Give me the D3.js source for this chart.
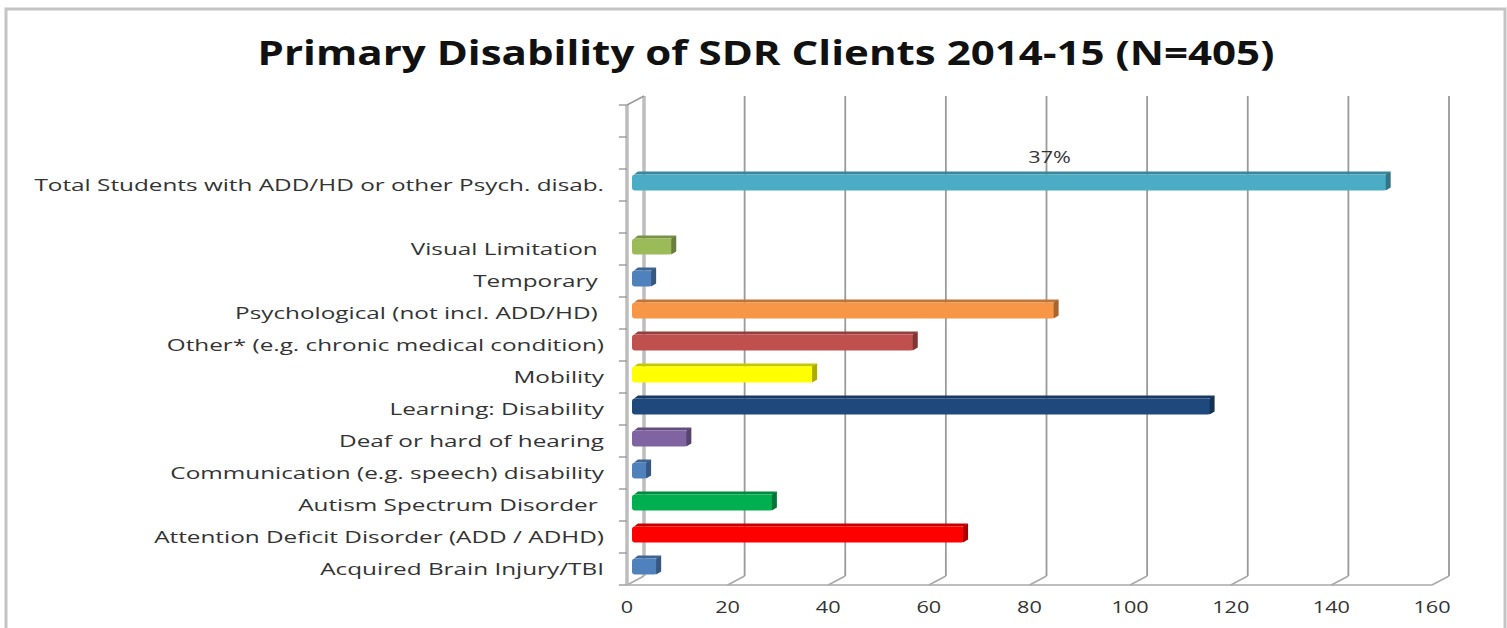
<!DOCTYPE html>
<html>
<head>
<meta charset="utf-8">
<script src="https://cdn.jsdelivr.net/npm/d3@7"></script>
<style>
  html, body { margin: 0; padding: 0; background: #fff; }
  svg text { white-space: pre; }
</style>
</head>
<body>
<svg id="chart" width="1507" height="628"></svg>
<script>
// ---------- data ----------
const titleText = "Primary Disability of SDR Clients 2014-15 (N=405)";
const totalN = 405;
// categories from bottom to top (empty strings are blank rows)
const categories = [
  "Acquired Brain Injury/TBI",
  "Attention Deficit Disorder (ADD / ADHD)",
  "Autism Spectrum Disorder ",
  "Communication (e.g. speech) disability",
  "Deaf or hard of hearing",
  "Learning: Disability",
  "Mobility",
  "Other* (e.g. chronic medical condition)",
  "Psychological (not incl. ADD/HD) ",
  "Temporary ",
  "Visual Limitation ",
  "",
  "Total Students with ADD/HD or other Psych. disab.",
  " ",
  "  "
];
const values = [5, 66, 28, 3, 11, 115, 36, 56, 84, 4, 8, null, 150, null, null];
const barColors = ["#4f81bd", "#ff0000", "#00b050", "#4f81bd", "#8064a2", "#1f497d",
                   "#ffff00", "#c0504d", "#f79646", "#4f81bd", "#9bbb59", null, "#4bacc6", null, null];
const xTicks = [0, 20, 40, 60, 80, 100, 120, 140, 160];
const pctLabelCategory = "Total Students with ADD/HD or other Psych. disab.";
const pctLabelAt = 84; // data position of the percentage label along the axis

// ---------- layout ----------
const svg = d3.select("#chart");
const plot = { left: 627, right: 1432, top: 105, bottom: 585 };
const depth = { dx: 17, dy: -9 };

const x = d3.scaleLinear().domain([0, 160]).range([plot.left, plot.right]);
const xb = v => x(v) + depth.dx;             // back wall
const xBar = v => x(v) + 5;                   // bars sit mid-depth
const y = d3.scaleBand().domain(categories.slice().reverse()).range([plot.top, plot.bottom]).padding(0);

// frame
svg.append("rect").attr("x", 6).attr("y", 9).attr("width", 1499).attr("height", 640)
  .attr("fill", "#fff").attr("stroke", "#c4c4c4").attr("stroke-width", 3);

// title
const title = svg.append("text")
  .attr("text-anchor", "middle")
  .attr("font-family", "'Open Sans', sans-serif")
  .attr("font-weight", "bold")
  .attr("font-size", 34)
  .attr("fill", "#111")
  .text(titleText);
{
  const tw = title.node().getComputedTextLength();
  const sx = 1017 / tw;
  title.attr("transform", `translate(766,65) scale(${sx},1)`);
}

// back wall + gridlines
const grid = svg.append("g");
xTicks.forEach(v => {
  const isZero = v === 0;
  grid.append("line")
    .attr("x1", xb(v)).attr("x2", xb(v))
    .attr("y1", plot.top + depth.dy).attr("y2", plot.bottom + depth.dy)
    .attr("stroke", isZero ? "#bdbdbd" : "#9a9a9a").attr("stroke-width", isZero ? 3.5 : 1.8);
  grid.append("line")
    .attr("x1", xb(v)).attr("y1", plot.bottom + depth.dy)
    .attr("x2", x(v)).attr("y2", plot.bottom)
    .attr("stroke", "#a8a8a8").attr("stroke-width", 1.5);
});
// floor front edge
grid.append("line").attr("x1", plot.left).attr("x2", plot.right)
  .attr("y1", plot.bottom).attr("y2", plot.bottom)
  .attr("stroke", "#a8a8a8").attr("stroke-width", 1.5);
// left side wall front edge
grid.append("line").attr("x1", plot.left).attr("x2", plot.left)
  .attr("y1", plot.top).attr("y2", plot.bottom)
  .attr("stroke", "#bdbdbd").attr("stroke-width", 3.5);
grid.append("line").attr("x1", plot.left).attr("y1", plot.top)
  .attr("x2", xb(0)).attr("y2", plot.top + depth.dy)
  .attr("stroke", "#9a9a9a").attr("stroke-width", 1.5);
// category ticks
const bounds = categories.map(c => y(c)).concat([plot.bottom]);
bounds.forEach(b => {
  grid.append("line").attr("x1", plot.left - 8).attr("x2", plot.left)
    .attr("y1", b).attr("y2", b).attr("stroke", "#a0a0a0").attr("stroke-width", 1.5);
});

// bars (3D look)
const barH = 19, topD = { dx: 4, dy: -3 };
const bars = svg.append("g");
categories.forEach((c, i) => {
  const v = values[i];
  if (v == null) return;
  const col = d3.color(barColors[i]);
  const dark = col.darker(0.7).formatHex();
  const darker = col.darker(1.1).formatHex();
  const cy = y(c) + y.bandwidth() / 2 - 4;
  const x0 = xBar(0), x1 = xBar(v);
  const yTop = cy - barH / 2 + 3, yBot = cy + barH / 2;
  // top face
  bars.append("polygon")
    .attr("points", [[x0 + 2, yTop], [x1, yTop], [x1 + topD.dx, yTop + topD.dy], [x0 + 2 + topD.dx, yTop + topD.dy]].join(" "))
    .attr("fill", dark);
  // front face
  bars.append("rect")
    .attr("x", x0).attr("y", yTop).attr("width", Math.max(0, x1 - x0)).attr("height", yBot - yTop)
    .attr("rx", 3).attr("fill", col.formatHex());
  // right face
  bars.append("polygon")
    .attr("points", [[x1 - 1, yTop], [x1 + topD.dx, yTop + topD.dy], [x1 + topD.dx, yBot + topD.dy], [x1 - 1, yBot]].join(" "))
    .attr("fill", darker);
});

// percentage label
{
  const i = categories.indexOf(pctLabelCategory);
  const cy = y(pctLabelCategory) + y.bandwidth() / 2 - 4;
  const t = svg.append("text")
    .attr("text-anchor", "middle")
    .attr("font-family", "'Open Sans', sans-serif")
    .attr("font-size", 16)
    .attr("fill", "#333")
    .text(d3.format(".0%")(values[i] / totalN));
  t.attr("transform", `translate(${x(pctLabelAt)},${cy - 18}) scale(1.35,1)`);
}

// category labels
const labG = svg.append("g");
let labScale = null;
categories.forEach(c => {
  if (!c.trim()) return;
  const t = labG.append("text")
    .attr("text-anchor", "end")
    .attr("font-family", "'Open Sans', sans-serif")
    .attr("font-size", 15.5)
    .attr("fill", "#333")
    .text(c);
  if (labScale === null && c === pctLabelCategory) {
    labScale = 570 / t.node().getComputedTextLength();
  }
  t.attr("data-y", y(c) + y.bandwidth() / 2 + 5.5);
});
if (labScale === null) labScale = 1.3;
labG.selectAll("text").attr("transform", function () {
  return `translate(604,${this.getAttribute("data-y")}) scale(${labScale},1)`;
});

// x tick labels
const tickG = svg.append("g");
xTicks.forEach(v => {
  tickG.append("text")
    .attr("text-anchor", "middle")
    .attr("font-family", "'Open Sans', sans-serif")
    .attr("font-size", 15.5)
    .attr("fill", "#333")
    .attr("transform", `translate(${x(v)},613) scale(1.4,1)`)
    .text(v);
});
</script>
</body>
</html>
